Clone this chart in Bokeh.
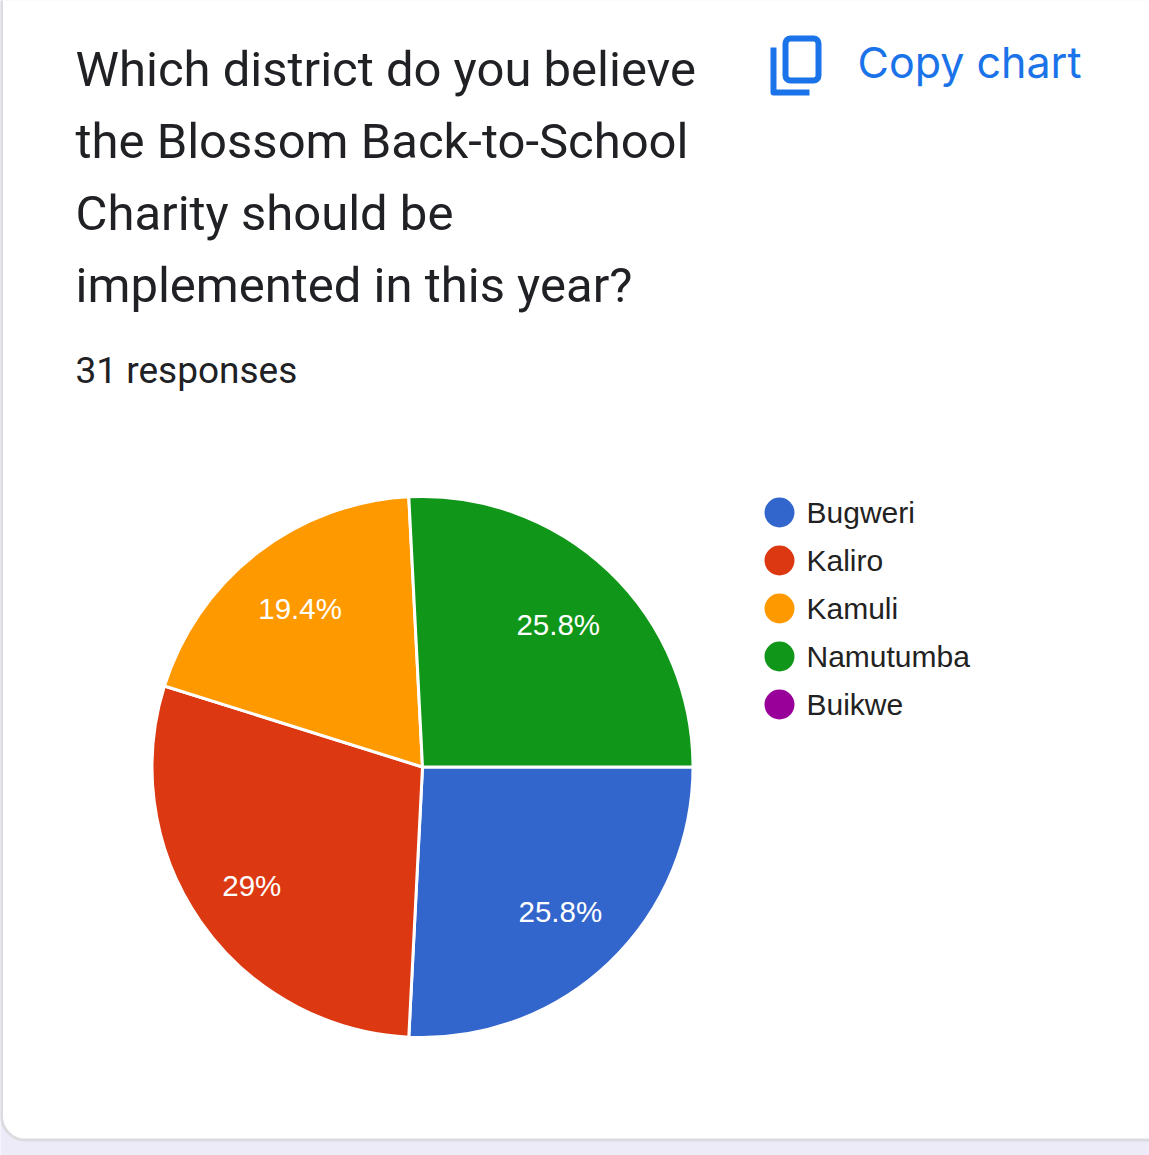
from math import cos, sin, radians
from bokeh.plotting import figure
from bokeh.models import Range1d
from bokeh.core.properties import value
from bokeh.embed import file_html
from bokeh.resources import INLINE

title_lines = ["Which district do you believe", "the Blossom Back-to-School", "Charity should be", "implemented in this year?"]
subtitle = "31 responses"
copy_text = "Copy chart"
categories = ["Bugweri", "Kaliro", "Kamuli", "Namutumba", "Buikwe"]
counts = [8, 9, 6, 8, 0]
percent_labels = ["25.8%", "29%", "19.4%", "25.8%", ""]
colors = ["#3366cc", "#dc3912", "#ff9900", "#109618", "#990099"]

W, H = 1149, 1155
def X(x): return x - 1
def Y(y): return H - y

p = figure(width=W, height=H, x_range=Range1d(0, W), y_range=Range1d(0, H),
           toolbar_location=None, output_backend="svg", min_border=0, outline_line_color=None)
p.xaxis.visible = False
p.yaxis.visible = False
p.grid.visible = False
p.background_fill_color = "#eeebf9"
p.border_fill_color = "#eeebf9"

# card
p.quad(left=[X(2)], right=[X(1300)], top=[Y(-50)], bottom=[Y(1139.5)], fill_color="#ffffff",
       line_color="#dadce0", line_width=3, border_radius=24)

# title
for i, line in enumerate(title_lines):
    p.text([X(76)], [Y(69 + 72 * i)], text=[line], text_font=value("Roboto"), text_font_size="49px",
           text_color="#202124", text_baseline="middle")
p.text([X(76)], [Y(370)], text=[subtitle], text_font=value("Roboto"), text_font_size="37px",
       text_color="#202124", text_baseline="middle")

# copy chart
blue = "#1a73e8"
p.quad(left=[X(786)], right=[X(819)], top=[Y(38)], bottom=[Y(80)], fill_color=None, line_color=blue,
       line_width=6, border_radius=5)
p.line([X(774), X(774), X(810)], [Y(47), Y(92), Y(92)], line_color=blue, line_width=6, line_join="round")
p.text([X(858)], [Y(61)], text=[copy_text], text_font=value("Inter"), text_font_size="43px",
       text_color=blue, text_baseline="middle")

# pie
cx, cy, R = 423, 766.5, 270.5
total = sum(counts)
label_r = [200, 208, 200, 197, 200]
cum = 0.0
for i, (c, col, lab) in enumerate(zip(counts, colors, percent_labels)):
    ang = 360.0 * c / total
    if c > 0:
        p.wedge(x=[X(cx)], y=[Y(cy)], radius=R, start_angle=radians(-cum), end_angle=radians(-(cum + ang)),
                direction="clock", fill_color=col, line_color="#ffffff", line_width=3)
        mid = radians(cum + ang / 2)
        p.text([X(cx + label_r[i] * cos(mid))], [Y(cy + label_r[i] * sin(mid))], text=[lab],
               text_font=value("Liberation Sans"), text_font_size="29.5px", text_color="#ffffff",
               text_align="center", text_baseline="middle")
    cum += ang

# legend
for i, (name, col) in enumerate(zip(categories, colors)):
    yy = 512 + 48 * i
    p.scatter([X(780)], [Y(yy)], size=30, marker="circle", fill_color=col, line_color=None)
    p.text([X(807)], [Y(yy)], text=[name], text_font=value("Liberation Sans"), text_font_size="30px",
           text_color="#222222", text_baseline="middle")

open("out.html", "w").write(file_html(p, INLINE))
